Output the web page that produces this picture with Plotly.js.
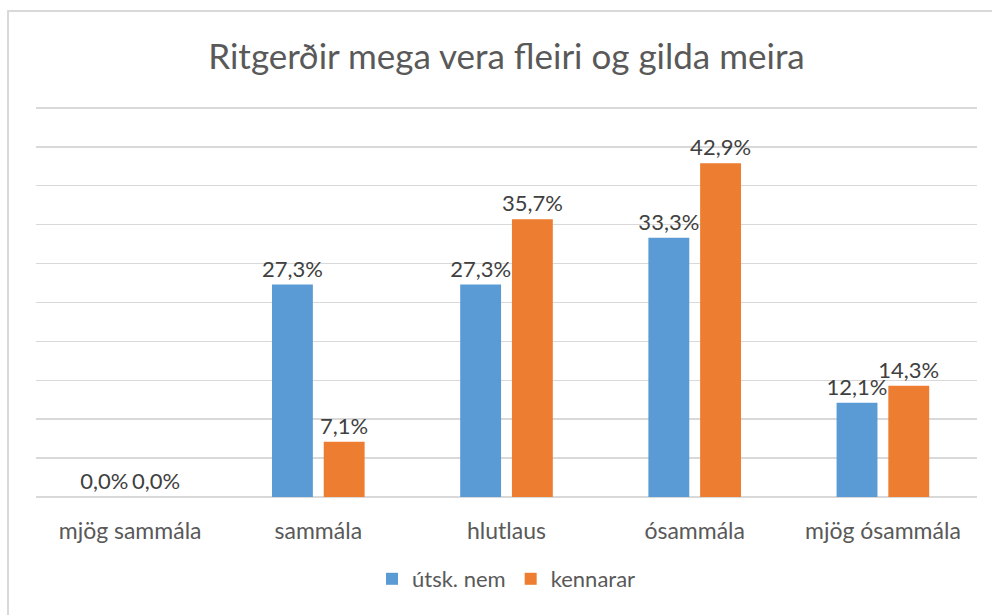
<!DOCTYPE html>
<html>
<head>
<meta charset="utf-8">
<script src="https://cdn.plot.ly/plotly-3.0.1.min.js"></script>
<style>
  html, body { margin: 0; padding: 0; background: #ffffff; }
  #wrap { position: relative; width: 992px; height: 615px; overflow: hidden; }
  #frame { position: absolute; left: 7px; top: 10px; width: 1000px; height: 700px;
           border-left: 2px solid #d9d9d9; border-top: 2px solid #d9d9d9; box-sizing: border-box; }
  #chart { position: absolute; left: 0; top: 0; width: 992px; height: 615px; }
</style>
</head>
<body>
<div id="wrap">
  <div id="frame"></div>
  <div id="chart"></div>
</div>
<script>
const categories = ["mjög sammála", "sammála", "hlutlaus", "ósammála", "mjög ósammála"];
const seriesNames = ["útsk. nem", "kennarar"];
const utskNem = [0.0, 27.3, 27.3, 33.3, 12.1];
const kennarar = [0.0, 7.1, 35.7, 42.9, 14.3];
const yTicks = [0, 5, 10, 15, 20, 25, 30, 35, 40, 45, 50];

const fmt = v => v.toFixed(1).replace('.', ',') + '%';
const FONT = 'Lato, "Open Sans", sans-serif';

function bar(name, vals, color) {
  return {
    type: 'bar', name: name, x: categories, y: vals,
    marker: { color: color },
    text: vals.map(fmt), textposition: 'outside', cliponaxis: false,
    constraintext: 'none',
    textfont: { family: FONT, size: 22, color: '#404040' },
    hoverinfo: 'skip'
  };
}

const data = [
  bar(seriesNames[0], utskNem, '#5B9BD5'),
  bar(seriesNames[1], kennarar, '#ED7D31')
];

const layout = {
  width: 992, height: 615,
  margin: { l: 36, r: 15, t: 104, b: 118 },
  paper_bgcolor: 'rgba(0,0,0,0)', plot_bgcolor: 'rgba(0,0,0,0)',
  font: { family: FONT, color: '#595959' },
  title: { text: 'Ritgerðir mega vera fleiri og gilda meira', x: 0.5, xref: 'paper',
           y: 1 - 57 / 615, yref: 'container', yanchor: 'middle',
           font: { family: FONT, size: 35, color: '#595959' } },
  barmode: 'group', bargap: 0.45, bargroupgap: 0.21,
  xaxis: { type: 'category', showgrid: false, showline: false, zeroline: false,
           ticks: '', ticklabelstandoff: 18,
           tickfont: { family: FONT, size: 23, color: '#595959' } },
  yaxis: { range: [0, 50.5], tickvals: yTicks, showticklabels: false, ticks: '',
           showgrid: true, gridcolor: '#d9d9d9', gridwidth: 1.5,
           zeroline: true, zerolinecolor: '#d9d9d9', zerolinewidth: 1.5, showline: false },
  showlegend: true,
  legend: { orientation: 'h', x: 0.5, xanchor: 'center', y: (497 - 579) / 393, yanchor: 'middle',
            font: { family: FONT, size: 22, color: '#595959' }, itemwidth: 30,
            traceorder: 'normal' }
};

Plotly.newPlot('chart', data, layout, { displayModeBar: false, staticPlot: true });
</script>
</body>
</html>
